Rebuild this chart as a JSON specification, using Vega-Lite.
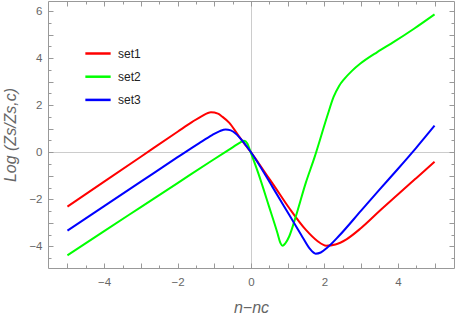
{
  "$schema": "https://vega.github.io/schema/vega-lite/v6.json",
  "width": 406,
  "height": 267,
  "autosize": "none",
  "padding": {"left": 48, "top": 1, "right": 3, "bottom": 51},
  "config": {
    "view": {"stroke": null},
    "font": "Liberation Sans"
  },
  "data": {
    "values": [
      {"series": "set1", "x": -5, "y": -2.31},
      {"series": "set1", "x": -4, "y": -1.25},
      {"series": "set1", "x": -3, "y": -0.19},
      {"series": "set1", "x": -2, "y": 0.87},
      {"series": "set1", "x": -1.6, "y": 1.29},
      {"series": "set1", "x": -1.35, "y": 1.53},
      {"series": "set1", "x": -1.09, "y": 1.7},
      {"series": "set1", "x": -0.9, "y": 1.64},
      {"series": "set1", "x": -0.78, "y": 1.51},
      {"series": "set1", "x": -0.59, "y": 1.25},
      {"series": "set1", "x": -0.36, "y": 0.75},
      {"series": "set1", "x": -0.15, "y": 0.3},
      {"series": "set1", "x": 0, "y": 0},
      {"series": "set1", "x": 0.2, "y": -0.45},
      {"series": "set1", "x": 0.45, "y": -1.02},
      {"series": "set1", "x": 0.58, "y": -1.31},
      {"series": "set1", "x": 1.04, "y": -2.37},
      {"series": "set1", "x": 1.49, "y": -3.29},
      {"series": "set1", "x": 1.8, "y": -3.76},
      {"series": "set1", "x": 2.05, "y": -3.97},
      {"series": "set1", "x": 2.3, "y": -3.92},
      {"series": "set1", "x": 2.6, "y": -3.7},
      {"series": "set1", "x": 3, "y": -3.22},
      {"series": "set1", "x": 3.5, "y": -2.5},
      {"series": "set1", "x": 4, "y": -1.8},
      {"series": "set1", "x": 4.5, "y": -1.1},
      {"series": "set1", "x": 5, "y": -0.4},
      {"series": "set2", "x": -5, "y": -4.38},
      {"series": "set2", "x": -4, "y": -3.35},
      {"series": "set2", "x": -3, "y": -2.33},
      {"series": "set2", "x": -2, "y": -1.31},
      {"series": "set2", "x": -1.06, "y": -0.35},
      {"series": "set2", "x": -0.5, "y": 0.21},
      {"series": "set2", "x": -0.3, "y": 0.41},
      {"series": "set2", "x": -0.19, "y": 0.49},
      {"series": "set2", "x": -0.1, "y": 0.37},
      {"series": "set2", "x": 0, "y": -0.04},
      {"series": "set2", "x": 0.2, "y": -0.9},
      {"series": "set2", "x": 0.49, "y": -2.3},
      {"series": "set2", "x": 0.72, "y": -3.43},
      {"series": "set2", "x": 0.8, "y": -3.85},
      {"series": "set2", "x": 0.86, "y": -3.97},
      {"series": "set2", "x": 0.93, "y": -3.88},
      {"series": "set2", "x": 1.04, "y": -3.58},
      {"series": "set2", "x": 1.22, "y": -2.73},
      {"series": "set2", "x": 1.49, "y": -1.31},
      {"series": "set2", "x": 1.73, "y": -0.22},
      {"series": "set2", "x": 2.08, "y": 1.55},
      {"series": "set2", "x": 2.25, "y": 2.35},
      {"series": "set2", "x": 2.4, "y": 2.82},
      {"series": "set2", "x": 2.55, "y": 3.13},
      {"series": "set2", "x": 2.75, "y": 3.46},
      {"series": "set2", "x": 2.98, "y": 3.77},
      {"series": "set2", "x": 3.44, "y": 4.26},
      {"series": "set2", "x": 3.89, "y": 4.69},
      {"series": "set2", "x": 4.44, "y": 5.25},
      {"series": "set2", "x": 5, "y": 5.86},
      {"series": "set3", "x": -5, "y": -3.33},
      {"series": "set3", "x": -4, "y": -2.29},
      {"series": "set3", "x": -3, "y": -1.25},
      {"series": "set3", "x": -2, "y": -0.21},
      {"series": "set3", "x": -1.42, "y": 0.38},
      {"series": "set3", "x": -1.06, "y": 0.73},
      {"series": "set3", "x": -0.85, "y": 0.9},
      {"series": "set3", "x": -0.69, "y": 0.97},
      {"series": "set3", "x": -0.55, "y": 0.93},
      {"series": "set3", "x": -0.42, "y": 0.8},
      {"series": "set3", "x": -0.18, "y": 0.38},
      {"series": "set3", "x": 0, "y": 0},
      {"series": "set3", "x": 0.58, "y": -1.46},
      {"series": "set3", "x": 1.04, "y": -2.66},
      {"series": "set3", "x": 1.4, "y": -3.6},
      {"series": "set3", "x": 1.6, "y": -4.1},
      {"series": "set3", "x": 1.76, "y": -4.31},
      {"series": "set3", "x": 1.9, "y": -4.26},
      {"series": "set3", "x": 2.08, "y": -4.05},
      {"series": "set3", "x": 2.4, "y": -3.55},
      {"series": "set3", "x": 3, "y": -2.48},
      {"series": "set3", "x": 3.5, "y": -1.59},
      {"series": "set3", "x": 4, "y": -0.71},
      {"series": "set3", "x": 4.5, "y": 0.19},
      {"series": "set3", "x": 5, "y": 1.13}
    ]
  },
  "layer": [
    {
      "mark": {"type": "line", "strokeWidth": 2, "interpolate": "monotone", "clip": true},
      "encoding": {
        "x": {
          "field": "x", "type": "quantitative",
          "scale": {"domain": [-5.53, 5.53], "nice": false, "zero": false},
          "axis": {
            "orient": "bottom",
            "title": "n−nc",
            "titleFont": "Liberation Sans",
            "titleFontStyle": "italic",
            "titleFontWeight": "normal",
            "titleFontSize": 16,
            "titleColor": "#666666",
            "titlePadding": 10,
            "values": [-5, -4.5, -4, -3.5, -3, -2.5, -2, -1.5, -1, -0.5, 0, 0.5, 1, 1.5, 2, 2.5, 3, 3.5, 4, 4.5, 5],
            "labelExpr": "datum.value % 2 === 0 ? format(datum.value, 'd') : ''",
            "labelOverlap": false,
            "labelColor": "#666666",
            "labelFontSize": 11.5,
            "labelPadding": 13,
            "tickSize": {"condition": {"test": "datum.value % 1 === 0", "value": -5}, "value": -3},
            "tickColor": "#999999",
            "domainColor": "#999999",
            "grid": true,
            "gridColor": "#cccccc",
            "gridOpacity": {"condition": {"test": "datum.value === 0", "value": 1}, "value": 0}
          }
        },
        "y": {
          "field": "y", "type": "quantitative",
          "scale": {"domain": [-4.92, 6.43], "nice": false, "zero": false},
          "axis": {
            "orient": "left",
            "title": "Log (Zs/Zs,c)",
            "titleFont": "Liberation Sans",
            "titleFontStyle": "italic",
            "titleFontWeight": "normal",
            "titleFontSize": 16,
            "titleColor": "#666666",
            "titlePadding": 10,
            "values": [-4.5, -4, -3.5, -3, -2.5, -2, -1.5, -1, -0.5, 0, 0.5, 1, 1.5, 2, 2.5, 3, 3.5, 4, 4.5, 5, 5.5, 6],
            "labelExpr": "datum.value % 2 === 0 ? format(datum.value, 'd') : ''",
            "labelOverlap": false,
            "labelColor": "#666666",
            "labelFontSize": 11.5,
            "labelPadding": 11,
            "tickSize": {"condition": {"test": "datum.value % 1 === 0", "value": -5}, "value": -3},
            "tickColor": "#999999",
            "domainColor": "#999999",
            "grid": true,
            "gridColor": "#cccccc",
            "gridOpacity": {"condition": {"test": "datum.value === 0", "value": 1}, "value": 0}
          }
        },
        "color": {
          "field": "series", "type": "nominal",
          "scale": {"domain": ["set1", "set2", "set3"], "range": ["#ff0000", "#00ff00", "#0000ff"]},
          "legend": {
            "orient": "none",
            "legendX": 36,
            "legendY": 38.5,
            "title": null,
            "padding": 0,
            "symbolType": "stroke",
            "symbolSize": 640,
            "symbolStrokeWidth": 2.5,
            "rowPadding": 3.2,
            "labelOffset": 6,
            "labelFontSize": 12,
            "labelColor": "#222222",
            "labelFont": "Liberation Sans"
          }
        }
      }
    },
    {
      "mark": {"type": "line", "opacity": 0},
      "encoding": {
        "x": {
          "field": "x", "type": "quantitative",
          "scale": {"domain": [-5.53, 5.53], "nice": false, "zero": false},
          "axis": {
            "orient": "top",
            "title": null,
            "labels": false,
            "values": [-5, -4.5, -4, -3.5, -3, -2.5, -2, -1.5, -1, -0.5, 0, 0.5, 1, 1.5, 2, 2.5, 3, 3.5, 4, 4.5, 5],
            "tickSize": {"condition": {"test": "datum.value % 1 === 0", "value": -5}, "value": -3},
            "tickColor": "#999999",
            "domainColor": "#999999",
            "grid": false
          }
        },
        "y": {
          "field": "y", "type": "quantitative",
          "scale": {"domain": [-4.92, 6.43], "nice": false, "zero": false},
          "axis": {
            "orient": "right",
            "title": null,
            "labels": false,
            "values": [-4.5, -4, -3.5, -3, -2.5, -2, -1.5, -1, -0.5, 0, 0.5, 1, 1.5, 2, 2.5, 3, 3.5, 4, 4.5, 5, 5.5, 6],
            "tickSize": {"condition": {"test": "datum.value % 1 === 0", "value": -5}, "value": -3},
            "tickColor": "#999999",
            "domainColor": "#999999",
            "grid": false
          }
        }
      }
    }
  ],
  "resolve": {"axis": {"x": "independent", "y": "independent"}}
}
